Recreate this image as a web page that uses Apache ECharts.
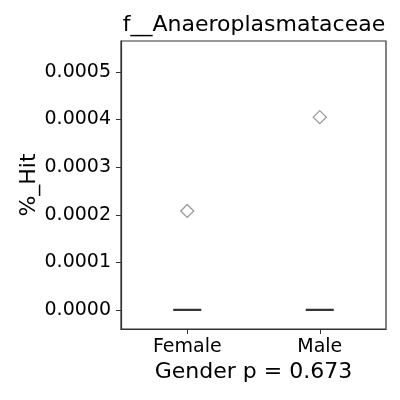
<!DOCTYPE html>
<html><head><meta charset="utf-8">
<script src="https://cdn.jsdelivr.net/npm/echarts@6/dist/echarts.min.js"></script>
<style>html,body{margin:0;padding:0;background:#fff}#c{width:400px;height:400px}</style>
</head><body><div id="c"></div>
<script>
const categories = ['Female', 'Male'];
// box stats [min, Q1, median, Q3, max] per category
const boxStats = [[0, 0, 0, 0, 0], [0, 0, 0, 0, 0]];
const outliers = [['Female', 0.000208], ['Male', 0.000405]];
const yTicks = [0, 0.0001, 0.0002, 0.0003, 0.0004, 0.0005];
const chartTitle = 'f__Anaeroplasmataceae';
const xName = 'Gender p = 0.673';
const yName = '%_Hit';

const font = 'DejaVu Sans';
const chart = echarts.init(document.getElementById('c'), null, {renderer: 'canvas'});
chart.setOption({
  animation: false,
  backgroundColor: '#fff',
  title: {text: chartTitle, left: 249, textAlign: 'center', top: 9,
    textStyle: {fontFamily: font, fontSize: 22, fontWeight: 'normal', color: '#000'}},
  grid: {left: 121, top: 41, width: 265, height: 288, show: true,
    borderColor: '#333', borderWidth: 1.2, backgroundColor: '#fff'},
  xAxis: {type: 'category', data: categories, boundaryGap: true,
    name: xName, nameLocation: 'middle', nameGap: 32, nameMoveOverlap: false,
    nameTextStyle: {fontFamily: font, fontSize: 22, color: '#000'},
    axisLine: {show: true, onZero: false, lineStyle: {color: '#333', width: 1.2}},
    axisTick: {show: true, alignWithLabel: true, length: 5, lineStyle: {color: '#333'}},
    axisLabel: {fontFamily: font, fontSize: 19, color: '#000', margin: 9},
    splitLine: {show: false}},
  yAxis: {type: 'value', min: -0.00004, max: 0.000565,
    name: yName, nameLocation: 'middle', nameGap: 81, nameMoveOverlap: false,
    nameTextStyle: {fontFamily: font, fontSize: 22, color: '#000'},
    axisLine: {show: true, onZero: false, lineStyle: {color: '#333', width: 1.2}},
    axisTick: {show: true, length: 5, customValues: yTicks, lineStyle: {color: '#333'}},
    axisLabel: {fontFamily: font, fontSize: 19, color: '#000', margin: 10,
      customValues: yTicks, formatter: v => v.toFixed(4)},
    splitLine: {show: false}},
  series: [
    {type: 'boxplot', data: boxStats, boxWidth: [28, 28],
      itemStyle: {color: '#fff', borderColor: '#333', borderWidth: 2.2}},
    {type: 'scatter', data: outliers, symbol: 'diamond', symbolSize: [13, 13],
      itemStyle: {color: '#fff', borderColor: '#808080', borderWidth: 1.3}}
  ]
});
</script></body></html>
